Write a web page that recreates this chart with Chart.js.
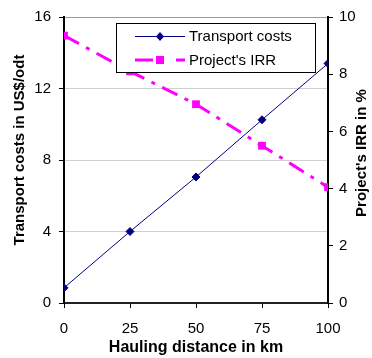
<!DOCTYPE html>
<html>
<head>
<meta charset="utf-8">
<script src="https://cdn.jsdelivr.net/npm/chart.js@4.4.1/dist/chart.umd.min.js"></script>
<style>
  html, body { margin: 0; padding: 0; background: #ffffff; }
  #wrap { position: relative; width: 372px; height: 358px; }
</style>
</head>
<body>
<div id="wrap"><canvas id="c" width="372" height="358"></canvas></div>
<script>
// ---- data ----
const distances = [0, 25, 50, 75, 100];
const transportCosts = [0.85, 4.0, 7.05, 10.25, 13.4];
const projectIRR = [9.35, 8.1, 6.95, 5.5, 4.05];
const xTicks = [0, 25, 50, 75, 100];
const leftTicks = [0, 4, 8, 12, 16];
const rightTicks = [0, 2, 4, 6, 8, 10];
const seriesNames = ["Transport costs", "Project's IRR"];
const xTitle = "Hauling distance in km";
const leftTitle = "Transport costs in US$/odt";
const rightTitle = "Project's IRR in %";

const FONT = "'Liberation Sans', Arial, sans-serif";
const NAVY = '#000080';
const MAGENTA = '#FF00FF';
const IRR_DASH = [17, 8, 4, 8];

const overlay = {
  id: 'overlay',
  afterDraw(chart) {
    const ctx = chart.ctx;
    // axis titles for the vertical axes
    ctx.save();
    ctx.fillStyle = '#000';
    ctx.font = 'bold 15px ' + FONT;
    ctx.textAlign = 'center';
    ctx.textBaseline = 'middle';
    ctx.translate(20, 150);
    ctx.rotate(-Math.PI / 2);
    ctx.fillText(leftTitle, 0, 0);
    ctx.restore();

    ctx.save();
    ctx.fillStyle = '#000';
    ctx.font = 'bold 15px ' + FONT;
    ctx.textAlign = 'center';
    ctx.textBaseline = 'middle';
    ctx.translate(362, 153);
    ctx.rotate(-Math.PI / 2);
    ctx.fillText(rightTitle, 0, 0);
    ctx.restore();

    // legend box
    const bx = 116, by = 23, bw = 199, bh = 49;
    ctx.save();
    ctx.fillStyle = '#fff';
    ctx.fillRect(bx, by, bw, bh);
    ctx.strokeStyle = '#000';
    ctx.lineWidth = 1;
    ctx.strokeRect(bx + 0.5, by + 0.5, bw, bh);

    const y1 = 36, y2 = 60;
    ctx.strokeStyle = NAVY;
    ctx.lineWidth = 1;
    ctx.beginPath();
    ctx.moveTo(135, y1 + 0.5);
    ctx.lineTo(185, y1 + 0.5);
    ctx.stroke();
    ctx.fillStyle = NAVY;
    ctx.beginPath();
    ctx.moveTo(160, y1 - 4);
    ctx.lineTo(164, y1 + 0.5);
    ctx.lineTo(160, y1 + 5);
    ctx.lineTo(156, y1 + 0.5);
    ctx.closePath();
    ctx.fill();

    ctx.strokeStyle = MAGENTA;
    ctx.lineWidth = 3;
    ctx.beginPath();
    ctx.moveTo(135, y2);
    ctx.lineTo(153, y2);
    ctx.moveTo(176, y2);
    ctx.lineTo(185, y2);
    ctx.stroke();
    ctx.fillStyle = MAGENTA;
    ctx.fillRect(156, y2 - 4, 8, 8);

    ctx.fillStyle = '#000';
    ctx.font = '15px ' + FONT;
    ctx.textAlign = 'left';
    ctx.textBaseline = 'middle';
    ctx.fillText(seriesNames[0], 189, y1 + 1);
    ctx.fillText(seriesNames[1], 189, y2 + 1);
    ctx.restore();
  }
};

new Chart(document.getElementById('c'), {
  type: 'line',
  data: {
    datasets: [
      {
        label: seriesNames[0],
        data: distances.map((d, i) => ({ x: d, y: transportCosts[i] })),
        borderColor: NAVY,
        backgroundColor: NAVY,
        borderWidth: 1,
        pointStyle: 'rectRot',
        pointRadius: 4,
        pointBorderWidth: 1,
        yAxisID: 'y',
        tension: 0
      },
      {
        label: seriesNames[1],
        data: distances.map((d, i) => ({ x: d, y: projectIRR[i] })),
        borderColor: MAGENTA,
        backgroundColor: MAGENTA,
        borderWidth: 3,
        borderDash: IRR_DASH,
        pointStyle: 'rect',
        pointRadius: 5.5,
        pointBorderWidth: 0,
        yAxisID: 'y1',
        tension: 0
      }
    ]
  },
  options: {
    responsive: false,
    animation: false,
    devicePixelRatio: 1,
    layout: { padding: { top: 16, left: 0, right: 0, bottom: 0 } },
    plugins: { legend: { display: false }, tooltip: { enabled: false } },
    scales: {
      x: {
        type: 'linear',
        min: xTicks[0],
        max: xTicks[xTicks.length - 1],
        afterBuildTicks: s => { s.ticks = xTicks.map(v => ({ value: v })); },
        afterFit: s => { s.height = 55; },
        grid: { drawOnChartArea: false, tickLength: 5, tickColor: '#000', tickWidth: 1 },
        border: { color: '#222', width: 2 },
        ticks: { color: '#000', font: { family: FONT, size: 15 }, padding: 12, maxRotation: 0 },
        title: { display: true, text: xTitle, color: '#000', font: { family: FONT, size: 16, weight: 'bold' }, padding: { top: 0, bottom: 1 } }
      },
      y: {
        position: 'left',
        min: leftTicks[0],
        max: leftTicks[leftTicks.length - 1],
        afterBuildTicks: s => { s.ticks = leftTicks.map(v => ({ value: v })); },
        afterFit: s => { s.width = 64; },
        grid: {
          color: ctx => (ctx.tick && ctx.tick.value === 16) ? '#999' : (ctx.tick && ctx.tick.value === 0 ? 'rgba(0,0,0,0)' : '#cfcfcf'),
          tickLength: 5, tickColor: '#000', lineWidth: 1
        },
        border: { color: '#000', width: 2 },
        ticks: { color: '#000', font: { family: FONT, size: 15 }, padding: 8 }
      },
      y1: {
        position: 'right',
        min: rightTicks[0],
        max: rightTicks[rightTicks.length - 1],
        afterBuildTicks: s => { s.ticks = rightTicks.map(v => ({ value: v })); },
        afterFit: s => { s.width = 44; },
        grid: { drawOnChartArea: false, tickLength: 5, tickColor: '#000' },
        border: { color: '#000', width: 2 },
        ticks: { color: '#000', font: { family: FONT, size: 15 }, padding: 6 }
      }
    }
  },
  plugins: [overlay]
});
</script>
</body>
</html>
